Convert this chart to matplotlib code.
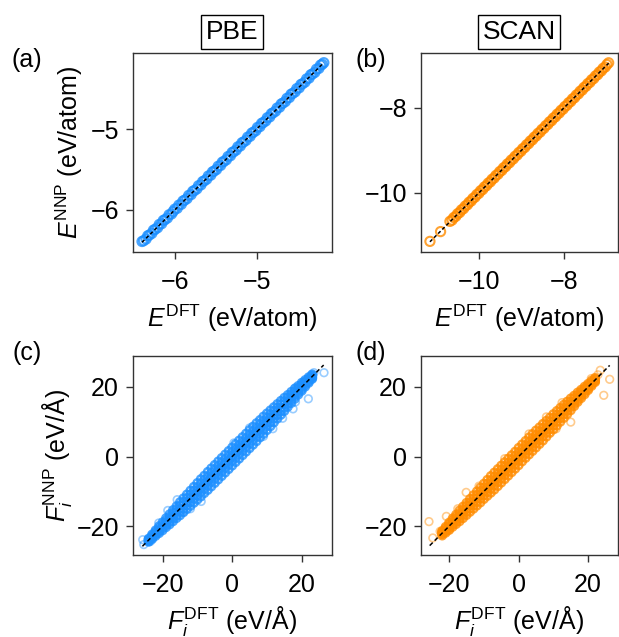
import numpy as np
import matplotlib
matplotlib.use("Agg")
import matplotlib.pyplot as plt

plt.rcParams['font.family'] = ['Liberation Sans', 'DejaVu Sans']
plt.rcParams['mathtext.fontset'] = 'custom'
plt.rcParams['mathtext.rm'] = 'Liberation Sans'
plt.rcParams['mathtext.it'] = 'Liberation Sans:italic'
plt.rcParams['mathtext.bf'] = 'Liberation Sans:bold'
plt.rcParams['axes.unicode_minus'] = True

# ---------------- data ----------------
# (a) PBE energies (eV/atom)
EA_DFT = [
    -6.40, -6.38, -6.35, -6.33, -6.31, -6.28, -6.26, -6.24, -6.21, -6.19,
    -6.16, -6.14, -6.12, -6.09, -6.07, -6.04, -6.02, -6.00, -5.97, -5.95,
    -5.92, -5.90, -5.88, -5.85, -5.83, -5.80, -5.78, -5.76, -5.73, -5.71,
    -5.68, -5.66, -5.64, -5.61, -5.59, -5.56, -5.54, -5.52, -5.49, -5.47,
    -5.44, -5.42, -5.40, -5.37, -5.35, -5.32, -5.30, -5.28, -5.25, -5.23,
    -5.20, -5.18, -5.16, -5.13, -5.11, -5.08, -5.06, -5.04, -5.01, -4.99,
    -4.96, -4.94, -4.92, -4.89, -4.87, -4.84, -4.82, -4.80, -4.77, -4.75,
    -4.72, -4.70, -4.68, -4.65, -4.63, -4.60, -4.58, -4.56, -4.53, -4.51,
    -4.48, -4.46, -4.44, -4.41, -4.39, -4.36, -4.34, -4.32, -4.29, -4.27,
    -4.24, -4.22, -4.20, -4.18]
EA_NNP = [
    -6.39, -6.38, -6.36, -6.32, -6.31, -6.29, -6.25, -6.24, -6.22, -6.18,
    -6.17, -6.13, -6.12, -6.10, -6.06, -6.05, -6.02, -5.99, -5.98, -5.94,
    -5.93, -5.89, -5.88, -5.86, -5.82, -5.81, -5.77, -5.76, -5.74, -5.70,
    -5.69, -5.65, -5.64, -5.62, -5.58, -5.57, -5.53, -5.52, -5.50, -5.46,
    -5.45, -5.41, -5.40, -5.38, -5.34, -5.33, -5.29, -5.28, -5.26, -5.22,
    -5.21, -5.17, -5.16, -5.14, -5.10, -5.09, -5.05, -5.04, -5.02, -4.98,
    -4.97, -4.93, -4.92, -4.90, -4.86, -4.85, -4.81, -4.80, -4.78, -4.74,
    -4.73, -4.69, -4.68, -4.66, -4.62, -4.61, -4.57, -4.56, -4.54, -4.50,
    -4.49, -4.45, -4.44, -4.42, -4.38, -4.37, -4.33, -4.32, -4.30, -4.26,
    -4.25, -4.21, -4.20, -4.18]

# (b) SCAN energies (eV/atom)
EB_DFT = [
    -11.15, -10.90, -10.68, -10.63, -10.59, -10.54, -10.50, -10.45, -10.41, -10.36,
    -10.32, -10.27, -10.23, -10.18, -10.14, -10.09, -10.05, -10.00, -9.96, -9.91,
    -9.87, -9.82, -9.78, -9.73, -9.69, -9.64, -9.60, -9.55, -9.51, -9.46,
    -9.42, -9.37, -9.33, -9.28, -9.24, -9.19, -9.15, -9.10, -9.06, -9.01,
    -8.97, -8.92, -8.88, -8.83, -8.79, -8.74, -8.70, -8.65, -8.61, -8.56,
    -8.52, -8.47, -8.43, -8.38, -8.34, -8.29, -8.25, -8.20, -8.16, -8.11,
    -8.07, -8.02, -7.98, -7.93, -7.89, -7.84, -7.80, -7.75, -7.71, -7.66,
    -7.62, -7.57, -7.53, -7.48, -7.44, -7.39, -7.35, -7.30, -7.26, -7.21,
    -7.17, -7.12, -7.08, -7.03, -6.99, -6.95]
EB_NNP = [
    -11.14, -10.91, -10.67, -10.64, -10.58, -10.55, -10.49, -10.46, -10.40, -10.37,
    -10.31, -10.28, -10.22, -10.19, -10.13, -10.10, -10.04, -10.01, -9.95, -9.92,
    -9.86, -9.83, -9.77, -9.74, -9.68, -9.65, -9.59, -9.56, -9.50, -9.47,
    -9.41, -9.38, -9.32, -9.29, -9.23, -9.20, -9.14, -9.11, -9.05, -9.02,
    -8.96, -8.93, -8.87, -8.84, -8.78, -8.75, -8.69, -8.66, -8.60, -8.57,
    -8.51, -8.48, -8.42, -8.39, -8.33, -8.30, -8.24, -8.21, -8.15, -8.12,
    -8.06, -8.03, -7.97, -7.94, -7.88, -7.85, -7.79, -7.76, -7.70, -7.67,
    -7.61, -7.58, -7.52, -7.49, -7.43, -7.40, -7.34, -7.31, -7.25, -7.22,
    -7.16, -7.13, -7.07, -7.04, -6.98, -6.94]

# (c) PBE force components (eV/A): dense band, DFT value per column + NNP values
FC_X = [-24, -23, -22, -21, -20, -19, -18, -17, -16, -15, -14, -13, -12, -11,
        -10, -9, -8, -7, -6, -5, -4, -3, -2, -1, 0, 1, 2, 3, 4, 5, 6, 7, 8,
        9, 10, 11, 12, 13, 14, 15, 16, 17, 18, 19, 20, 21, 22, 23]
FC_Y = [
    [-23.6, -23.8, -24.1, -24.3, -24.5],
    [-22.4, -22.8, -23.1, -23.4, -23.7],
    [-21.2, -21.6, -22.0, -22.4, -22.8],
    [-20.0, -20.5, -21.1, -21.5, -22.0],
    [-18.9, -19.5, -20.0, -20.6, -21.2],
    [-17.7, -18.4, -19.1, -19.7, -20.3],
    [-16.6, -17.3, -18.0, -18.8, -19.5],
    [-15.4, -16.2, -17.1, -17.8, -18.6],
    [-14.3, -15.1, -16.0, -16.9, -17.7],
    [-13.1, -14.0, -15.1, -15.9, -16.9],
    [-12.0, -13.0, -14.0, -15.0, -16.0],
    [-10.9, -11.9, -13.1, -14.0, -15.1],
    [-9.8, -10.9, -12.0, -13.1, -14.2],
    [-8.7, -9.8, -11.1, -12.1, -13.3],
    [-7.6, -8.8, -10.0, -11.2, -12.4],
    [-6.5, -7.7, -9.1, -10.2, -11.5],
    [-5.5, -6.7, -8.0, -9.3, -10.5],
    [-4.4, -5.7, -7.1, -8.3, -9.6],
    [-3.4, -4.7, -6.0, -7.3, -8.6],
    [-2.4, -3.7, -5.1, -6.3, -7.6],
    [-1.4, -2.7, -4.0, -5.3, -6.6],
    [-0.4, -1.7, -3.1, -4.3, -5.6],
    [0.6, -0.7, -2.0, -3.3, -4.6],
    [1.6, 0.3, -1.1, -2.3, -3.6],
    [2.6, 1.3, 0.0, -1.3, -2.6],
    [3.6, 2.3, 1.1, -0.3, -1.6],
    [4.6, 3.3, 2.0, 0.7, -0.6],
    [5.6, 4.3, 3.1, 1.7, 0.4],
    [6.6, 5.3, 4.0, 2.7, 1.4],
    [7.6, 6.3, 5.1, 3.7, 2.4],
    [8.6, 7.3, 6.0, 4.7, 3.4],
    [9.6, 8.3, 7.1, 5.7, 4.4],
    [10.5, 9.3, 8.0, 6.7, 5.5],
    [11.5, 10.2, 9.1, 7.7, 6.5],
    [12.4, 11.2, 10.0, 8.8, 7.6],
    [13.3, 12.1, 11.1, 9.8, 8.7],
    [14.2, 13.1, 12.0, 10.9, 9.8],
    [15.1, 14.0, 13.1, 11.9, 10.9],
    [16.0, 15.0, 14.0, 13.0, 12.0],
    [16.9, 15.9, 15.1, 14.0, 13.1],
    [17.7, 16.9, 16.0, 15.1, 14.3],
    [18.6, 17.8, 17.1, 16.2, 15.4],
    [19.5, 18.8, 18.0, 17.3, 16.6],
    [20.3, 19.7, 19.1, 18.4, 17.8],
    [21.2, 20.6, 20.0, 19.4, 18.9],
    [22.0, 21.5, 21.1, 20.6, 20.1],
    [22.8, 22.4, 22.0, 21.6, 21.2],
    [23.6, 23.3, 23.0, 22.7, 22.4]]
FC_OUT_X = [-25.7, -23.5, -25.4, -21.1, -15.8, -8.9, -14.1, 0.5, 11.7, 17.5,
            18.2, 21.9, 23.5, 26.4, 18.2, 23.0, -18.5, -12.0, 5.0, 9.0, 14.5, 20.5]
FC_OUT_Y = [-23.9, -24.4, -25.3, -19.1, -12.4, -12.9, -16.0, 3.9, 8.0, 13.7,
            15.7, 16.6, 24.1, 24.1, 19.8, 22.2, -15.5, -15.0, 8.2, 5.8, 11.0, 21.5]
LINE_C = [-25.8, 26.3]

# (d) SCAN force components (eV/A)
FD_X = [-22, -21, -20, -19, -18, -17, -16, -15, -14, -13, -12, -11, -10, -9,
        -8, -7, -6, -5, -4, -3, -2, -1, 0, 1, 2, 3, 4, 5, 6, 7, 8, 9, 10,
        11, 12, 13, 14, 15, 16, 17, 18, 19, 20, 21, 22]
FD_Y = [
    [-21.4, -21.7, -22.0, -22.3, -22.7],
    [-20.2, -20.6, -21.1, -21.5, -21.9],
    [-19.0, -19.5, -20.0, -20.5, -21.1],
    [-17.8, -18.4, -19.1, -19.6, -20.2],
    [-16.7, -17.3, -18.0, -18.7, -19.4],
    [-15.5, -16.3, -17.1, -17.8, -18.6],
    [-14.4, -15.2, -16.0, -16.8, -17.7],
    [-13.3, -14.1, -15.1, -15.9, -16.8],
    [-12.2, -13.1, -14.0, -14.9, -15.9],
    [-11.1, -12.0, -13.1, -14.0, -15.0],
    [-10.0, -11.0, -12.0, -13.0, -14.1],
    [-8.9, -9.9, -11.1, -12.1, -13.2],
    [-7.8, -8.9, -10.0, -11.1, -12.2],
    [-6.7, -7.8, -9.1, -10.2, -11.3],
    [-5.6, -6.8, -8.0, -9.2, -10.4],
    [-4.6, -5.8, -7.1, -8.3, -9.5],
    [-3.6, -4.8, -6.0, -7.3, -8.5],
    [-2.6, -3.8, -5.1, -6.3, -7.5],
    [-1.6, -2.8, -4.0, -5.3, -6.5],
    [-0.6, -1.8, -3.1, -4.3, -5.5],
    [0.4, -0.8, -2.0, -3.3, -4.5],
    [1.4, 0.2, -1.1, -2.3, -3.5],
    [2.5, 1.2, 0.0, -1.2, -2.5],
    [3.5, 2.2, 1.1, -0.2, -1.4],
    [4.5, 3.2, 2.0, 0.8, -0.4],
    [5.5, 4.2, 3.1, 1.8, 0.6],
    [6.5, 5.2, 4.0, 2.8, 1.6],
    [7.5, 6.2, 5.1, 3.8, 2.6],
    [8.4, 7.2, 6.0, 4.8, 3.6],
    [9.4, 8.2, 7.1, 5.8, 4.6],
    [10.3, 9.2, 8.0, 6.8, 5.7],
    [11.2, 10.1, 9.1, 7.9, 6.8],
    [12.2, 11.1, 10.0, 8.9, 7.8],
    [13.1, 12.0, 11.1, 10.0, 8.9],
    [14.0, 13.0, 12.0, 11.0, 10.0],
    [14.9, 13.9, 13.1, 12.1, 11.1],
    [15.8, 14.9, 14.0, 13.1, 12.2],
    [16.7, 15.8, 15.1, 14.2, 13.3],
    [17.5, 16.8, 16.0, 15.2, 14.5],
    [18.4, 17.7, 17.1, 16.3, 15.7],
    [19.2, 18.6, 18.0, 17.4, 16.8],
    [20.1, 19.6, 19.1, 18.5, 17.9],
    [20.9, 20.5, 20.0, 19.5, 19.1],
    [21.8, 21.4, 21.1, 20.7, 20.3],
    [22.6, 22.3, 22.0, 21.7, 21.4]]
FD_OUT_X = [-25.8, -24.7, -20.8, -19.9, -15.1, -11.4, -4.0, 8.0, 10.8, 15.0,
            24.5, 26.2, 23.5, 20.9, 17.6, -17.5, 3.0, 12.5, -22.6, 22.8]
FD_OUT_Y = [-18.7, -23.4, -17.2, -21.0, -10.3, -8.5, -0.6, 11.4, 8.0, 9.9,
            17.6, 22.2, 24.8, 22.4, 17.4, -15.0, 6.5, 15.5, -21.5, 23.5]
LINE_D = [-25.6, 26.2]

METHODS = ["PBE", "SCAN"]
PANEL_LABELS = ["(a)", "(b)", "(c)", "(d)"]

BLUE = "#1E90FF"
ORANGE = "#FF8C00"

# ---------------- figure ----------------
W, H = 619, 637
fig = plt.figure(figsize=(W / 100, H / 100), dpi=100)


def ax_at(x0, y0, x1, y1):
    return fig.add_axes([x0 / W, 1 - y1 / H, (x1 - x0) / W, (y1 - y0) / H])


axA = ax_at(133, 53, 332, 252)
axB = ax_at(421, 53, 618, 252)
axC = ax_at(133, 356, 332, 555)
axD = ax_at(421, 356, 618, 555)

FS = 18


def style(ax):
    for side in ["top", "right", "left", "bottom"]:
        ax.spines[side].set_color("#333333")
        ax.spines[side].set_linewidth(1.0)
    ax.tick_params(axis="both", which="both", direction="out", length=5,
                   width=1.0, color="#333333", labelsize=FS, pad=5,
                   top=False, right=False)
    ax.tick_params(axis="x", pad=8)


def expand(xs, ys):
    px, py = [], []
    for x, row in zip(xs, ys):
        for y in row:
            px.append(x)
            py.append(y)
    return np.array(px), np.array(py)


# (a)
axA.scatter(EA_DFT, EA_NNP, s=44, facecolors="none", edgecolors=BLUE,
            linewidths=1.5, alpha=0.8, zorder=2)
axA.plot([min(EA_DFT), max(EA_DFT)], [min(EA_DFT), max(EA_DFT)],
         ls=(0, (2.2, 1.6)), color="black", lw=1.1, zorder=3)
axA.set_xlim(-6.51, -4.08)
axA.set_ylim(-6.52, -4.06)
axA.set_xticks([-6, -5])
axA.set_yticks([-6, -5])

# (b)
axB.scatter(EB_DFT, EB_NNP, s=44, facecolors="none", edgecolors=ORANGE,
            linewidths=1.5, alpha=0.8, zorder=2)
axB.plot([min(EB_DFT), max(EB_DFT)], [min(EB_DFT), max(EB_DFT)],
         ls=(0, (2.2, 1.6)), color="black", lw=1.1, zorder=3)
axB.set_xlim(-11.36, -6.73)
axB.set_ylim(-11.39, -6.71)
axB.set_xticks([-10, -8])
axB.set_yticks([-10, -8])

# (c)
cx, cy = expand(FC_X, FC_Y)
axC.scatter(cx, cy, s=30, facecolors="none", edgecolors=BLUE,
            linewidths=1.7, alpha=0.8, zorder=2)
axC.scatter(FC_OUT_X, FC_OUT_Y, s=30, facecolors="none", edgecolors=BLUE,
            linewidths=1.2, alpha=0.45, zorder=2)
axC.plot(LINE_C, LINE_C, ls=(0, (2.8, 1.8)), color="black", lw=1.1, zorder=3)
axC.set_xlim(-28.5, 28.7)
axC.set_ylim(-28.3, 28.9)

# (d)
dx, dy = expand(FD_X, FD_Y)
axD.scatter(dx, dy, s=30, facecolors="none", edgecolors=ORANGE,
            linewidths=1.7, alpha=0.8, zorder=2)
axD.scatter(FD_OUT_X, FD_OUT_Y, s=30, facecolors="none", edgecolors=ORANGE,
            linewidths=1.2, alpha=0.45, zorder=2)
axD.plot(LINE_D, LINE_D, ls=(0, (2.8, 1.8)), color="black", lw=1.1, zorder=3)
axD.set_xlim(-28.1, 28.6)
axD.set_ylim(-28.3, 28.9)

for ax in (axC, axD):
    ax.set_xticks([-20, 0, 20])
    ax.set_yticks([-20, 0, 20])

for ax in (axA, axB, axC, axD):
    style(ax)

e_x = r"$E^{\mathrm{DFT}}$ (eV/atom)"
e_y = r"$E^{\mathrm{NNP}}$ (eV/atom)"
f_x = r"$F_i^{\mathrm{DFT}}$ (eV/Å)"
f_y = r"$F_i^{\mathrm{NNP}}$ (eV/Å)"

axA.set_xlabel(e_x, fontsize=FS, labelpad=6)
axB.set_xlabel(e_x, fontsize=FS, labelpad=6)
axA.set_ylabel(e_y, fontsize=FS, labelpad=4)
axC.set_xlabel(f_x, fontsize=FS, labelpad=5)
axD.set_xlabel(f_x, fontsize=FS, labelpad=5)
axC.set_ylabel(f_y, fontsize=FS, labelpad=2)

# panel labels
for (px, py), lab in zip([(27, 60), (371, 60), (27, 353), (371, 353)], PANEL_LABELS):
    fig.text(px / W, 1 - py / H, lab, fontsize=FS, ha="center", va="center")

# method titles in boxes
for cx_, name in zip([232, 519], METHODS):
    fig.text(cx_ / W, 1 - 32 / H, name, fontsize=19, ha="center", va="center",
             bbox=dict(boxstyle="square,pad=0.18", fc="white", ec="black", lw=1.0))

fig.savefig("out.png", dpi=100)
